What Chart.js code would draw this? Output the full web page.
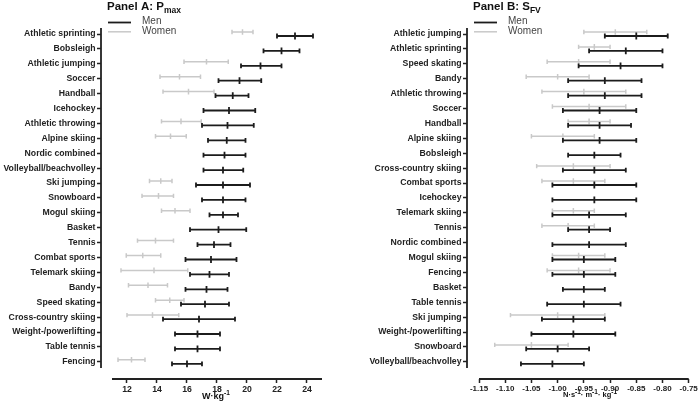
<!DOCTYPE html>
<html>
<head>
<meta charset="utf-8">
<script src="https://cdn.jsdelivr.net/npm/chart.js@4/dist/chart.umd.min.js"></script>
<style>
html, body { margin: 0; padding: 0; background: #fff; }
#wrap { position: relative; width: 700px; height: 409px; }
.panel { position: absolute; top: 0; width: 350px; height: 409px; }
</style>
</head>
<body>
<div id="wrap">
  <div class="panel" style="left:0"><canvas id="chartA" width="350" height="409"></canvas></div>
  <div class="panel" style="left:350px"><canvas id="chartB" width="350" height="409"></canvas></div>
</div>
<script>
// ---- Panel A: Pmax (W/kg) ----
const sportsA = ['Athletic sprinting', 'Bobsleigh', 'Athletic jumping', 'Soccer', 'Handball', 'Icehockey',
  'Athletic throwing', 'Alpine skiing', 'Nordic combined', 'Volleyball/beachvolley', 'Ski jumping', 'Snowboard',
  'Mogul skiing', 'Basket', 'Tennis', 'Combat sports', 'Telemark skiing', 'Bandy', 'Speed skating',
  'Cross-country skiing', 'Weight-/powerlifting', 'Table tennis', 'Fencing'];
const menMeanA = [23.2, 22.3, 20.9, 19.5, 19.05, 18.8, 18.7, 18.65, 18.5, 18.4, 18.4, 18.4, 18.4, 18.1, 17.8, 17.6, 17.5, 17.3, 17.2, 16.8, 16.7, 16.7, 16.0];
const menLoA   = [22.0, 21.1, 19.6, 18.1, 17.9, 17.1, 17.0, 17.4, 17.1, 17.1, 16.6, 17.0, 17.5, 16.2, 16.7, 15.9, 16.2, 15.9, 15.6, 14.4, 15.2, 15.2, 15.0];
const menHiA   = [24.4, 23.5, 22.3, 20.95, 20.1, 20.55, 20.45, 19.9, 19.9, 19.75, 20.2, 19.9, 19.4, 19.95, 18.9, 19.3, 18.8, 18.7, 18.8, 19.2, 18.2, 18.2, 17.0];
const womenMeanA = [19.7, null, 17.3, 15.5, 16.1, null, 15.6, 14.9, null, null, 14.25, 14.1, 15.2, null, 13.9, 13.05, 13.8, 13.4, 14.85, 13.7, null, null, 12.3];
const womenLoA   = [19.0, null, 15.8, 14.2, 14.4, null, 14.3, 13.9, null, null, 13.5, 13.0, 14.3, null, 12.7, 11.95, 11.6, 12.1, 13.9, 12.0, null, null, 11.4];
const womenHiA   = [20.4, null, 18.75, 16.9, 17.8, null, 16.95, 15.95, null, null, 15.0, 15.1, 16.2, null, 15.1, 14.25, 16.05, 14.7, 15.8, 15.45, null, null, 13.2];
const ticksA = [12, 14, 16, 18, 20, 22, 24];

// ---- Panel B: SFV (N·s-1·m-1·kg-1) ----
const sportsB = ['Athletic jumping', 'Athletic sprinting', 'Speed skating', 'Bandy', 'Athletic throwing', 'Soccer',
  'Handball', 'Alpine skiing', 'Bobsleigh', 'Cross-country skiing', 'Combat sports', 'Icehockey', 'Telemark skiing',
  'Tennis', 'Nordic combined', 'Mogul skiing', 'Fencing', 'Basket', 'Table tennis', 'Ski jumping',
  'Weight-/powerlifting', 'Snowboard', 'Volleyball/beachvolley'];
const menMeanB = [-0.85, -0.87, -0.88, -0.91, -0.91, -0.92, -0.92, -0.92, -0.93, -0.93, -0.93, -0.93, -0.94, -0.94, -0.94, -0.95, -0.95, -0.95, -0.95, -0.97, -0.97, -1.00, -1.01];
const menLoB   = [-0.91, -0.94, -0.96, -0.98, -0.98, -0.99, -0.98, -0.99, -0.98, -0.99, -1.01, -1.01, -1.01, -0.98, -1.01, -1.01, -1.01, -0.99, -1.02, -1.03, -1.05, -1.06, -1.07];
const menHiB   = [-0.79, -0.80, -0.80, -0.84, -0.84, -0.85, -0.86, -0.85, -0.88, -0.87, -0.85, -0.85, -0.87, -0.90, -0.87, -0.89, -0.89, -0.91, -0.88, -0.91, -0.89, -0.94, -0.95];
const womenMeanB = [-0.89, -0.93, -0.96, -1.00, -0.95, -0.94, -0.94, -0.99, null, -0.97, -0.97, null, -0.97, -0.98, null, -0.96, -0.96, null, null, -1.00, null, -1.05, null];
const womenLoB   = [-0.95, -0.96, -1.02, -1.06, -1.03, -1.01, -0.98, -1.05, null, -1.04, -1.03, null, -1.01, -1.03, null, -1.01, -1.02, null, null, -1.09, null, -1.12, null];
const womenHiB   = [-0.83, -0.90, -0.90, -0.94, -0.87, -0.87, -0.90, -0.93, null, -0.90, -0.91, null, -0.93, -0.93, null, -0.91, -0.90, null, null, -0.91, null, -0.98, null];
const ticksB = [-1.15, -1.10, -1.05, -1.00, -0.95, -0.90, -0.85, -0.80, -0.75];

const FONT = "'Liberation Sans', Arial, Helvetica, sans-serif";
const MEN_COLOR = '#1c1c1c';
const WOMEN_COLOR = '#c9c9c9';
const AXIS_COLOR = '#222';

function points(mean, lo, hi) {
  const out = [];
  mean.forEach((m, i) => {
    if (m !== null) out.push({ x: m, y: i, lo: lo[i], hi: hi[i] });
  });
  return out;
}

// draws text pieces (normal / sub / sup) one after another
function richText(ctx, parts, x, y, align) {
  let total = 0;
  parts.forEach(p => { ctx.font = p.font; total += ctx.measureText(p.t).width; });
  let cx = align === 'center' ? x - total / 2 : x;
  ctx.textAlign = 'left';
  ctx.textBaseline = 'alphabetic';
  parts.forEach(p => {
    ctx.font = p.font;
    ctx.fillText(p.t, cx, y + (p.dy || 0));
    cx += ctx.measureText(p.t).width;
  });
}

const errorBarPlugin = {
  id: 'errorBars',
  afterDatasetsDraw(chart) {
    const ctx = chart.ctx;
    const xs = chart.scales.x;
    // women first so the men bars sit on top
    for (let d = chart.data.datasets.length - 1; d >= 0; d--) {
      const ds = chart.data.datasets[d];
      const meta = chart.getDatasetMeta(d);
      ctx.save();
      ctx.strokeStyle = ds.barColor;
      ctx.lineWidth = ds.barWidth;
      meta.data.forEach((el, j) => {
        const pt = ds.data[j];
        const y = el.y + ds.yShift;
        const x0 = xs.getPixelForValue(pt.lo);
        const x1 = xs.getPixelForValue(pt.hi);
        const xm = el.x;
        ctx.beginPath();
        ctx.moveTo(x0, y); ctx.lineTo(x1, y);
        ctx.moveTo(x0, y - ds.capH); ctx.lineTo(x0, y + ds.capH);
        ctx.moveTo(x1, y - ds.capH); ctx.lineTo(x1, y + ds.capH);
        ctx.moveTo(xm, y - ds.midH); ctx.lineTo(xm, y + ds.midH);
        ctx.stroke();
      });
      ctx.restore();
    }
  }
};

const decorPlugin = {
  id: 'decor',
  afterDraw(chart, args, opts) {
    const ctx = chart.ctx;
    const xs = chart.scales.x, ys = chart.scales.y;
    const area = chart.chartArea;
    ctx.save();
    // axis lines, GraphPad style (detached)
    ctx.strokeStyle = AXIS_COLOR;
    ctx.lineWidth = 1.8;
    ctx.beginPath();
    ctx.moveTo(area.left, area.top);
    ctx.lineTo(area.left, ys.getPixelForValue(opts.yAxisEnd));
    ctx.moveTo(xs.getPixelForValue(opts.xAxisStart), area.bottom);
    ctx.lineTo(xs.getPixelForValue(opts.xAxisEnd), area.bottom);
    ctx.stroke();

    // panel title
    ctx.fillStyle = '#111';
    richText(ctx, [
      { t: opts.title, font: 'bold 11.5px ' + FONT },
      { t: opts.titleSub, font: 'bold 8.5px ' + FONT, dy: 2.5 }
    ], opts.titleX, 10, 'left');

    // legend
    const lx = opts.legendX;
    [[MEN_COLOR, 'Men', 22.5, 1.8], [WOMEN_COLOR, 'Women', 31.8, 1.5]].forEach(([c, label, y, w]) => {
      ctx.strokeStyle = c;
      ctx.lineWidth = w;
      ctx.beginPath();
      ctx.moveTo(lx, y); ctx.lineTo(lx + 23, y);
      ctx.stroke();
      ctx.fillStyle = '#444';
      ctx.font = '10px ' + FONT;
      ctx.textAlign = 'left';
      ctx.textBaseline = 'middle';
      ctx.fillText(label, lx + 34, y - 1);
    });

    // x axis title
    ctx.fillStyle = '#111';
    richText(ctx, opts.axisTitle, opts.axisTitleX, opts.axisTitleY, 'center');
    ctx.restore();
  }
};

function makePanel(id, cfg) {
  const rows = cfg.labels.map((_, i) => i);
  return new Chart(document.getElementById(id), {
    type: 'scatter',
    data: {
      datasets: [
        { label: 'Men', data: points(cfg.menMean, cfg.menLo, cfg.menHi), pointRadius: 0,
          barColor: MEN_COLOR, barWidth: 1.8, yShift: 2, capH: 2.4, midH: 3.4 },
        { label: 'Women', data: points(cfg.womenMean, cfg.womenLo, cfg.womenHi), pointRadius: 0,
          barColor: WOMEN_COLOR, barWidth: 1.5, yShift: -2, capH: 2.2, midH: 2.8 }
      ]
    },
    options: {
      responsive: false,
      animation: false,
      layout: { padding: { top: 28, right: cfg.padRight, left: 0, bottom: 0 } },
      plugins: {
        legend: { display: false },
        tooltip: { enabled: false },
        decor: cfg.decor
      },
      scales: {
        x: {
          type: 'linear',
          min: cfg.xMin,
          max: cfg.xMax,
          afterBuildTicks: s => { s.ticks = cfg.ticks.map(v => ({ value: v })); },
          afterFit: s => { s.height = 30; },
          border: { display: false },
          grid: { drawOnChartArea: false, drawTicks: true, tickLength: 4, tickWidth: 1.5, tickColor: AXIS_COLOR },
          ticks: {
            autoSkip: false, maxRotation: 0, padding: 1, color: '#222',
            font: { family: FONT, size: cfg.tickSize, weight: 'bold' },
            callback: v => cfg.tickFmt(v)
          }
        },
        y: {
          type: 'linear',
          reverse: true,
          min: -0.403,
          max: 23.154,
          afterBuildTicks: s => { s.ticks = rows.map(v => ({ value: v })); },
          afterFit: s => { s.width = cfg.yWidth; },
          border: { display: false },
          grid: { drawOnChartArea: false, drawTicks: true, tickLength: 4, tickWidth: 1.5, tickColor: AXIS_COLOR },
          ticks: {
            autoSkip: false, padding: 1.5, color: '#222',
            font: { family: FONT, size: 8.7, weight: 'bold' },
            callback: v => cfg.labels[v]
          }
        }
      }
    },
    plugins: [errorBarPlugin, decorPlugin]
  });
}

const supFont = 'bold 6.5px ' + FONT;

makePanel('chartA', {
  labels: sportsA,
  menMean: menMeanA, menLo: menLoA, menHi: menHiA,
  womenMean: womenMeanA, womenLo: womenLoA, womenHi: womenHiA,
  ticks: ticksA, xMin: 10.267, xMax: 25, yWidth: 101, padRight: 28, tickSize: 8.7,
  tickFmt: v => String(v),
  decor: {
    yAxisEnd: 22.42, xAxisStart: 11, xAxisEnd: 25,
    title: 'Panel A: P', titleSub: 'max', titleX: 107, legendX: 108,
    axisTitle: [
      { t: 'W·kg', font: 'bold 9px ' + FONT },
      { t: '-1', font: supFont, dy: -4 }
    ],
    axisTitleX: 216, axisTitleY: 399
  }
});

makePanel('chartB', {
  labels: sportsB,
  menMean: menMeanB, menLo: menLoB, menHi: menHiB,
  womenMean: womenMeanB, womenLo: womenLoB, womenHi: womenHiB,
  ticks: ticksB, xMin: -1.1729, xMax: -0.75, yWidth: 117, padRight: 11.3, tickSize: 8,
  tickFmt: v => v.toFixed(2),
  decor: {
    yAxisEnd: 22.42, xAxisStart: -1.15, xAxisEnd: -0.75,
    title: 'Panel B: S', titleSub: 'FV', titleX: 123, legendX: 124,
    axisTitle: [
      { t: 'N·s', font: 'bold 7.5px ' + FONT },
      { t: '-1', font: supFont, dy: -3.5 },
      { t: '· m', font: 'bold 7.5px ' + FONT },
      { t: '-1', font: supFont, dy: -3.5 },
      { t: '· kg', font: 'bold 7.5px ' + FONT },
      { t: '-1', font: supFont, dy: -3.5 }
    ],
    axisTitleX: 240, axisTitleY: 397
  }
});
</script>
</body>
</html>
